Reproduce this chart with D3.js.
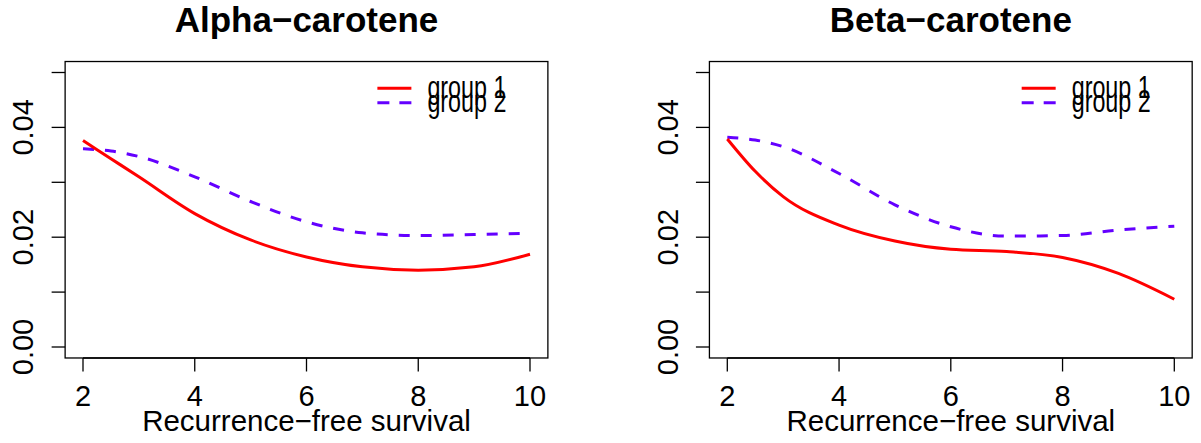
<!DOCTYPE html>
<html>
<head>
<meta charset="utf-8">
<script src="https://cdn.jsdelivr.net/npm/d3@7"></script>
<style>
  body { margin: 0; background: #fff; }
  svg { display: block; font-family: "Liberation Sans", Arial, Helvetica, sans-serif; }
</style>
</head>
<body>
<svg id="chart" width="1201" height="443"></svg>
<script>
// readings
const years = [2, 2.5, 3, 4, 5, 6, 7, 8, 9, 10]
const alphaGroup1 = [0.0376, 0.0343, 0.0310, 0.0243, 0.0195, 0.0164, 0.0146, 0.0140, 0.0146, 0.0169]
const alphaGroup2 = [0.0361, 0.0357, 0.0347, 0.0310, 0.0265, 0.0228, 0.0208, 0.0203, 0.0205, 0.0207]
const betaGroup1 = [0.0379, 0.0320, 0.0274, 0.0222, 0.0193, 0.0178, 0.0174, 0.0163, 0.0134, 0.0087]
const betaGroup2 = [0.0382, 0.0377, 0.0365, 0.0316, 0.0259, 0.0219, 0.0202, 0.0203, 0.0213, 0.0220]

const titles = ["Alpha\u2212carotene", "Beta\u2212carotene"]
const seriesNames = ["group 1", "group 2"]
const xTicks = [2, 4, 6, 8, 10]
const yTicks = [0, 0.01, 0.02, 0.03, 0.04, 0.05]
const yLabels = [0, 0.02, 0.04]
const xLabel = "Recurrence\u2212free survival"

const red = "#ff0000"
const blue = "#6400ff"

const svg = d3.select("#chart")

const panels = [
    {x0: 83, title: titles[0], g1: alphaGroup1, g2: alphaGroup2},
    {x0: 727.3, title: titles[1], g1: betaGroup1, g2: betaGroup2}
]

const y = d3.scaleLinear().domain([0, 0.05]).range([347, 72.5])
const tick = 13.5

panels.forEach(p => {
    const x = d3.scaleLinear().domain([2, 10]).range([p.x0, p.x0 + 447])
    // R style 4% padding on both axes
    const left = x(1.68), right = x(10.32)
    const top = y(0.052), bottom = y(-0.002)
    const g = svg.append("g")

    g.append("rect")
        .attr("x", left).attr("y", top)
        .attr("width", right - left).attr("height", bottom - top)
        .attr("fill", "none").attr("stroke", "#000").attr("stroke-width", 1.3)

    // x axis
    g.append("line")
        .attr("x1", x(2)).attr("x2", x(10)).attr("y1", bottom).attr("y2", bottom)
        .attr("stroke", "#000").attr("stroke-width", 1.3)
    g.selectAll(".xt").data(xTicks).join("line")
        .attr("x1", d => x(d)).attr("x2", d => x(d))
        .attr("y1", bottom).attr("y2", bottom + tick)
        .attr("stroke", "#000").attr("stroke-width", 1.3)
    g.selectAll(".xl").data(xTicks).join("text")
        .attr("x", d => x(d)).attr("y", 406)
        .attr("text-anchor", "middle").attr("font-size", 29)
        .text(d => d)

    // y axis
    g.selectAll(".yt").data(yTicks).join("line")
        .attr("x1", left - tick).attr("x2", left)
        .attr("y1", d => y(d)).attr("y2", d => y(d))
        .attr("stroke", "#000").attr("stroke-width", 1.3)
    g.selectAll(".yl").data(yLabels).join("text")
        .attr("transform", d => `translate(${left - 31.8},${y(d)}) rotate(-90)`)
        .attr("text-anchor", "middle").attr("font-size", 29)
        .text(d => d3.format(".2f")(d))

    // titles
    g.append("text")
        .attr("x", (left + right) / 2).attr("y", 32)
        .attr("text-anchor", "middle").attr("font-size", 35).attr("font-weight", "bold")
        .text(p.title)
    g.append("text")
        .attr("x", (left + right) / 2).attr("y", 431)
        .attr("text-anchor", "middle").attr("font-size", 29.5)
        .text(xLabel)

    // curves
    const line = d3.line()
        .x((d, i) => x(years[i]))
        .y(d => y(d))
        .curve(d3.curveMonotoneX)

    g.append("path")
        .attr("d", line(p.g2))
        .attr("fill", "none").attr("stroke", blue).attr("stroke-width", 3)
        .attr("stroke-dasharray", "11,11")
    g.append("path")
        .attr("d", line(p.g1))
        .attr("fill", "none").attr("stroke", red).attr("stroke-width", 3)

    // legend, top right, no box
    const lg = g.append("g").attr("transform", `translate(${right},0)`)
    const rows = [{name: seriesNames[0], color: red, dash: null, ly: 88.3, ty: 98},
                  {name: seriesNames[1], color: blue, dash: "12,10", ly: 102.7, ty: 111.7}]
    rows.forEach(r => {
        lg.append("line")
            .attr("x1", -170.5).attr("x2", -136.5)
            .attr("y1", r.ly).attr("y2", r.ly)
            .attr("stroke", r.color).attr("stroke-width", 3)
            .attr("stroke-dasharray", r.dash)
        lg.append("text")
            .attr("x", -120.5).attr("y", r.ty)
            .attr("font-size", 31)
            .attr("textLength", 79).attr("lengthAdjust", "spacingAndGlyphs")
            .text(r.name)
    })
})
</script>
</body>
</html>
